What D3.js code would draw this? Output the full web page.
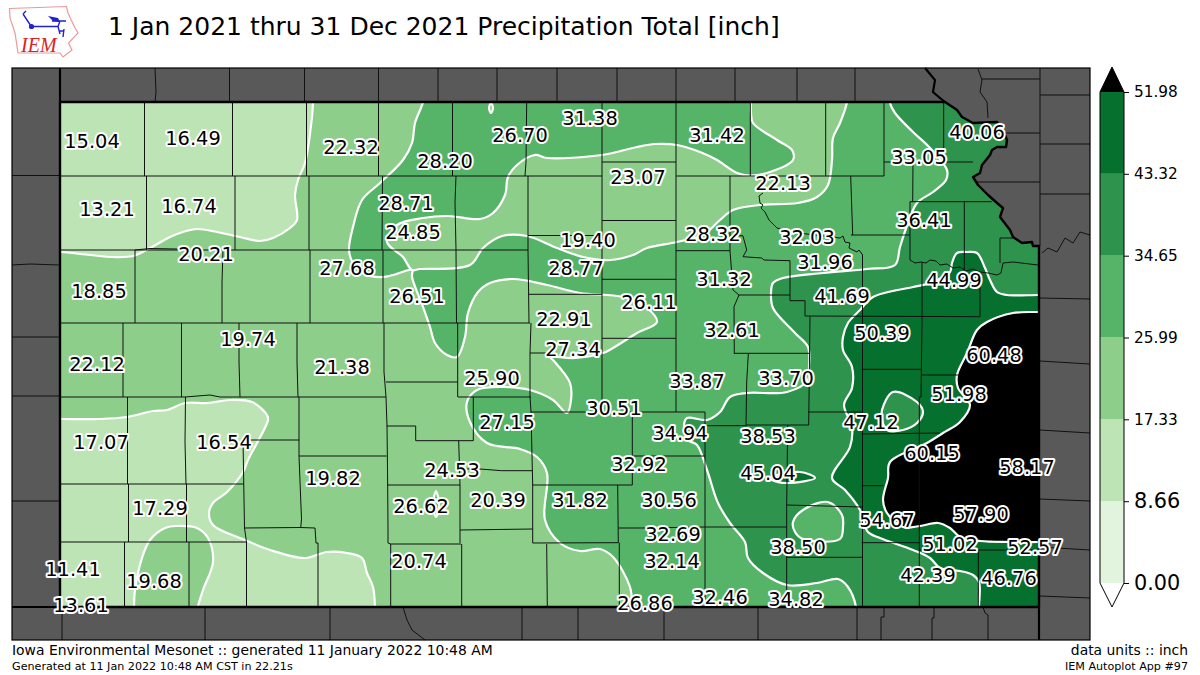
<!DOCTYPE html>
<html>
<head>
<meta charset="utf-8">
<title>Precipitation Total</title>
<script src="https://cdn.jsdelivr.net/npm/d3@7"></script>
<style>
    html, body { margin: 0; padding: 0; background: #fff; }
    svg { display: block; }
    text { font-family: "DejaVu Sans", sans-serif; fill: #000; }
</style>
</head>
<body>
<svg id="chart" width="1200" height="675"></svg>
<script>
// Everything on the map is in grid units: [east, south] of the NW corner of Kansas
var levelBreaks = [0, 8.66, 17.33, 25.99, 34.65, 43.32, 51.98];
var levelColors = ['#e3f4de', '#bce4b5', '#8dce8b', '#56b468', '#2e944d', '#06702f'];
var overColor = '#000000';
var tickLabels = ['0.00', '8.66', '17.33', '25.99', '34.65', '43.32', '51.98'];

var stationValues = [15.04, 16.49, 22.32, 28.20, 26.70, 31.38, 31.42, 23.07, 22.13, 33.05, 40.06, 13.21, 16.74, 28.71, 24.85,
    19.40, 28.32, 32.03, 36.41, 20.21, 27.68, 31.96, 28.77, 31.32, 44.99, 18.85, 26.51, 26.11, 41.69, 22.91, 32.61, 50.39,
    19.74, 27.34, 60.48, 22.12, 21.38, 25.90, 33.87, 33.70, 30.51, 51.98, 27.15, 47.12, 34.94, 38.53, 17.07, 16.54, 60.15,
    24.53, 58.17, 32.92, 45.04, 19.82, 30.56, 20.39, 31.82, 26.62, 17.29, 57.90, 54.67, 32.69, 38.50, 51.02, 32.14, 52.57,
    20.74, 11.41, 19.68, 42.39, 46.76, 26.86, 32.46, 34.82, 13.61];
var stationEast = [32, 133, 291, 385, 460, 530, 657, 578, 723, 859, 917, 47, 129, 346, 353,
    528, 653, 747, 864, 146, 287, 765, 516, 664, 894, 39, 357, 589, 782, 504, 672, 822,
    188, 513, 934, 37, 282, 432, 637, 726, 554, 899, 447, 811, 620, 708, 41, 164, 872,
    392, 967, 579, 708, 273, 609, 438, 520, 361, 100, 921, 827, 613, 738, 890, 612, 975,
    359, 13, 94, 868, 949, 585, 660, 736, 21];
var stationSouth = [39, 36, 45, 59, 33, 16, 33, 75, 81, 55, 30, 107, 104, 101, 130,
    138, 132, 135, 118, 152, 166, 160, 166, 177, 178, 189, 194, 200, 194, 217, 228, 231,
    237, 247, 253, 262, 265, 276, 279, 276, 306, 292, 320, 320, 331, 334, 340, 340, 351,
    368, 365, 362, 371, 376, 398, 398, 398, 404, 406, 412, 418, 432, 445, 442, 459, 445,
    459, 467, 479, 473, 476, 501, 495, 497, 503];

var kansasBorder = [[0, 0], [885, 0], [897, 8], [902, 15], [913, 21], [937, 20], [943, 28], [947, 38], [946, 45], [937, 45],
    [932, 48], [930, 53], [922, 63], [920, 71], [913, 75], [918, 83], [928, 93], [937, 101], [943, 106], [940, 115], [950, 128],
    [953, 135], [962, 141], [972, 140], [973, 144], [979, 144], [979, 505], [0, 505]];
var borderExtras = [[[865, -34], [875, -22], [873, -10], [880, -4], [885, 0]],
    [[0, -34], [0, 0]], [[-48, 505], [0, 505]], [[979, 505], [979, 538]]];

// filled bands, painted in this order, each one on top of the last
var band1North = [[253, -7], [253, 0], [252, 15], [245, 61], [238, 78], [235, 93], [237, 118], [230, 126], [213, 136], [200, 139],
    [180, 135], [157, 130], [137, 127], [123, 130], [110, 135], [90, 146], [73, 154], [53, 155], [30, 153], [1, 150], [-10, 150], [-10, -7]];
var band1South = [[-10, 317], [2, 317], [40, 317], [67, 315], [93, 309], [107, 308], [125, 301], [147, 301], [170, 298], [192, 300],
    [207, 313], [208, 318], [197, 341], [188, 358], [183, 370], [167, 390], [153, 401], [149, 411], [153, 423], [185, 438], [210, 448],
    [245, 456], [267, 450], [287, 451], [302, 456], [307, 471], [313, 485], [315, 505], [315, 515], [-10, 515]];
var band2Island = [[105, 426], [90, 438], [82, 456], [75, 488], [74, 505], [74, 515], [138, 515], [138, 505], [143, 488], [153, 460],
    [148, 436], [137, 426], [117, 424]];
var band3Main = [[363, -7], [363, 0], [355, 21], [352, 41], [343, 58], [320, 81], [302, 98], [293, 125], [289, 148], [293, 161], [307, 173],
    [323, 175], [333, 173], [352, 168], [352, 175], [363, 205], [370, 225], [375, 241], [387, 253], [397, 255], [405, 235], [408, 211],
    [418, 190], [430, 181], [453, 177], [487, 183], [520, 191], [563, 195], [587, 206], [597, 220], [577, 231], [553, 246], [543, 251],
    [515, 256], [490, 255], [493, 258], [510, 281], [511, 298], [507, 311], [493, 298], [470, 288], [443, 285], [417, 288], [407, 300],
    [410, 320], [427, 341], [460, 347], [477, 355], [487, 371], [485, 418], [500, 441], [520, 449], [540, 447], [553, 455], [570, 485],
    [572, 505], [572, 515], [1000, 515], [1000, -7]];
var band2Channel = [[352, 168], [343, 155], [327, 140], [337, 123], [363, 116], [388, 114], [420, 117], [433, 111], [445, 93], [448, 75],
    [457, 63], [475, 53], [487, 56], [542, 53], [577, 45], [595, 42], [617, 43], [640, 50], [657, 58], [677, 71], [690, 73.5], [710, 70],
    [733, 58], [732, 48], [717, 38], [693, 21], [691, 11], [691, 0], [691, -7], [787, -7], [787, 0], [780, 21], [773, 36], [772, 58],
    [768, 83], [757, 95], [738, 101], [700, 103], [673, 108], [660, 118], [643, 133], [617, 140], [587, 146], [573, 153], [550, 158],
    [523, 155], [497, 146], [467, 134], [442, 134], [423, 146], [410, 163], [360, 167]];
var band2Dot = [[431, 1], [433, 6], [431, 11], [429, 6]];
var band3Dot = [[376, 389], [379, 404], [376, 415], [373, 404]];
var band4Main = [[830, -7], [830, 1], [835, 11], [853, 30], [870, 46], [887, 68], [886, 78], [873, 90], [857, 101], [848, 121], [840, 145],
    [835, 163], [807, 167], [763, 171], [723, 176], [713, 181], [711, 191], [713, 206], [735, 231], [748, 245], [749, 265], [748, 278],
    [727, 290], [687, 291], [670, 295], [660, 310], [647, 318], [627, 316], [624, 323], [628, 338], [637, 343], [647, 368], [658, 401],
    [670, 421], [685, 440], [688, 456], [703, 471], [727, 483], [757, 481], [778, 477], [788, 485], [796, 505], [796, 515], [1000, 515], [1000, -7]];
var band3Island = [[733, 420], [743, 408], [768, 400], [782, 413], [783, 425], [780, 437], [743, 437], [735, 430]];
var band5Main = [[1000, 193], [978, 193], [947, 193], [937, 190], [930, 178], [925, 166], [917, 151], [907, 150], [897, 151], [892, 161],
    [890, 170], [870, 181], [853, 185], [813, 195], [800, 208], [788, 221], [783, 235], [783, 248], [792, 265], [792, 286], [784, 303],
    [792, 325], [790, 345], [772, 376], [785, 388], [800, 408], [808, 430], [820, 436], [853, 448], [870, 456], [880, 466], [900, 469],
    [913, 473], [919, 480], [919, 505], [919, 515], [1000, 515]];
var band4Island = [[822, 308], [833, 290], [857, 300], [863, 310], [857, 321], [843, 328], [827, 328], [822, 318]];
var band5Sliver = [[710, 376], [740, 370], [755, 376], [727, 381], [712, 378]];
var bandOver = [[1000, 210], [978, 210], [953, 211], [927, 220], [917, 228], [907, 251], [897, 273], [898, 286], [910, 303], [900, 320],
    [883, 331], [867, 341], [830, 360], [828, 376], [823, 398], [827, 411], [843, 425], [860, 424], [878, 421], [890, 426], [900, 435],
    [920, 439], [950, 440], [978, 440], [1000, 440]];

var bands = [
    {pts: band1North, color: levelColors[1]}, {pts: band1South, color: levelColors[1]},
    {pts: band2Island, color: levelColors[2]},
    {pts: band3Main, color: levelColors[3]}, {pts: band2Channel, color: levelColors[2]},
    {pts: band2Dot, color: levelColors[2]}, {pts: band3Dot, color: levelColors[3]},
    {pts: band4Main, color: levelColors[4]}, {pts: band3Island, color: levelColors[3]},
    {pts: band5Main, color: levelColors[5]}, {pts: band4Island, color: levelColors[4]}, {pts: band5Sliver, color: levelColors[5]},
    {pts: bandOver, color: overColor}
];

// county lines inside Kansas
var countyLines = [
    [[0, 74], [542, 74]], [[616, 74], [824, 74]], [[542, 60], [616, 60]], [[824, 60], [913, 60]],
    [[0, 148], [468, 148]], [[616, 148.7], [670, 148.7]], [[0, 221], [470, 221]],
    [[0, 295], [125, 295], [150, 293], [160, 295], [326, 295]], [[398, 295], [471, 295]],
    [[0, 382], [184, 382]], [[0, 440], [186.5, 440]],
    [[84.5, 0], [84.5, 74]], [[172.5, 0], [172.5, 74]], [[246.5, 0], [246.5, 74]], [[318.5, 0], [318.5, 74]], [[392.5, 0], [392.5, 74]],
    [[466.7, 0], [466, 60], [465, 74]], [[542, 0], [542, 310]], [[616, 0], [616, 310]],
    [[690.3, 0], [690.3, 74]], [[765.7, 0], [765.7, 74]], [[824, 0], [824, 74]], [[883.7, 0], [883.7, 60]],
    [[86.5, 74], [86.5, 148]], [[175, 74], [175, 148]], [[249, 74], [249, 148]], [[322.5, 74], [322, 148]], [[396, 74], [395, 100], [396, 148]],
    [[468, 74], [468, 148]], [[670, 74], [670, 148.7]],
    [[75, 148], [90, 146.5], [117, 147]], [[75, 148], [75, 221]], [[163, 148], [162, 180], [162, 221]], [[250, 148], [250, 221]], [[323, 148], [323, 221]],
    [[396, 148], [396.5, 221]], [[468, 148], [469, 221]],
    [[63, 221], [63, 295]], [[121.5, 221], [121.5, 295]], [[179, 221], [179, 260], [180, 295]], [[237, 221], [237, 260], [238, 295]],
    [[324, 221], [324, 270], [326, 295]], [[326, 280], [397.7, 280]], [[397.7, 221], [397.7, 295]],
    [[326, 295], [327, 324], [327.7, 384], [328, 427], [328, 441], [330.7, 442], [330.7, 505]],
    [[67.5, 295], [67.5, 382]], [[125.5, 295], [125, 340], [126, 382]],
    [[239, 295], [239, 354], [241.5, 417], [240.7, 426]], [[183, 338], [239, 338]], [[183, 338], [184.5, 426], [186.5, 440]],
    [[184.5, 426], [240, 425.5], [255, 426]], [[255, 426], [256, 441], [258, 441], [258, 505]], [[186.5, 440], [186.5, 505]],
    [[68.5, 382], [68.5, 440]], [[126.5, 382], [126.5, 440]], [[64.5, 440], [64.5, 505]], [[129, 440], [129, 505]],
    [[239, 354], [326.5, 354]],
    [[326.7, 324], [355.7, 324]], [[355.7, 324], [355.7, 338.7]], [[355.7, 338.7], [413.3, 338.7]], [[413.3, 295], [413.3, 338.7]],
    [[398.7, 338.7], [400, 383]], [[327.3, 383], [400, 383]], [[400, 383], [400, 441]], [[330.7, 442], [401, 442]], [[401.7, 442], [401.7, 505]],
    [[400, 367], [420, 367], [441.7, 368.7], [472.3, 368.7]], [[400, 428], [472.7, 427]],
    [[471, 221], [470, 251], [470, 295], [471, 310], [472.7, 383], [472.7, 441]], [[470, 251], [487, 251]],
    [[471, 310], [645, 310]], [[572.3, 310], [572.3, 383]], [[572.3, 354], [645, 354]], [[472.7, 383], [572.3, 383]],
    [[557.7, 383], [558.3, 440.7]], [[558.3, 426], [581.7, 426], [645, 425], [726.7, 425]], [[472.7, 441], [558.3, 440.7]],
    [[559.3, 440.7], [559.3, 505]], [[486.7, 442], [487.3, 505]], [[645, 310], [645, 505]],
    [[645, 323.7], [686, 323.7]], [[688.3, 252], [686.7, 280], [686, 323.7]], [[674.3, 251.3], [750, 251.3]],
    [[670, 148.7], [673, 188], [679, 193]], [[679, 193], [674, 204.7], [674.3, 252]], [[679, 193], [730, 193]],
    [[730, 158.7], [730, 198.7]], [[730, 198.7], [745, 198.7]], [[745, 198.7], [745, 214]], [[745, 214], [920, 214.7]],
    [[750, 214.7], [748.7, 323]], [[748, 310], [802, 310]], [[686, 323], [748.7, 323]],
    [[670, 133.7], [683, 133.7]], [[683, 134], [686.7, 148], [683, 154.7], [701.7, 156], [704, 158], [730, 158.7]],
    [[703, 91], [699, 94], [700, 101], [703, 103], [701, 106], [705, 110], [709, 118], [717, 126], [730, 130],
        [780, 136], [783, 134], [785, 140], [790, 141], [789, 146], [797, 150], [799, 148], [802.7, 153]],
    [[802.5, 153], [802.5, 505]], [[790.7, 74], [792.7, 133]], [[791, 133], [850, 133]], [[853, 60], [852.7, 99.7]], [[850, 99.7], [850, 158]],
    [[850, 99.7], [931.7, 99.7]], [[904.3, 99.7], [904.3, 168]],
    [[850, 158], [855, 161], [861, 160], [866, 161], [870, 158], [876, 159], [880, 163], [887, 162], [893, 166], [900, 165], [906, 169],
        [913, 167], [920, 170], [928, 171], [937, 173], [941, 171], [943, 161], [953, 160], [978, 163]],
    [[940, 136], [940, 161]], [[940, 136], [953, 136]],
    [[862, 160], [862, 221], [861, 295], [859.3, 295], [859.3, 505]],
    [[801.7, 267.3], [861.7, 267.3]], [[861.7, 273], [898.3, 273]], [[801.7, 332], [880, 331]], [[801.7, 383.7], [823.3, 383.7]],
    [[801.7, 440.7], [859.3, 440.7]], [[859, 448], [978, 448]], [[918.3, 448], [918.3, 505]], [[920, 171], [920, 214.7]],
    [[726.7, 403], [802, 405]], [[727.7, 323], [726.7, 403], [726.7, 505]], [[727, 455.3], [802, 455.3]],
    [[542, 118.5], [616, 118.5]], [[468, 133.5], [542, 133.5]], [[469, 192.3], [542, 192.3]], [[542, 177.3], [616, 177.3]],
    [[542, 236.3], [616, 236.3]]
];
// county lines of the neighbouring states, outside Kansas
var outsideLines = [
    [[95, -34], [96, -10], [95, 0]], [[169.5, -34], [169.5, 0]], [[244.5, -34], [244.5, 0]], [[318.5, -34], [318.5, 0]], [[378, -34], [378, 0]],
    [[437, -34], [437, 0]], [[497, -34], [497, 0]], [[557, -34], [557, 0]], [[616, -34], [616, 0]], [[675, -34], [675, 0]],
    [[737, -34], [737, 0]], [[795, -34], [795, 0]],
    [[-48, 73.5], [0, 73.5]], [[-48, 163], [-30, 162], [0, 163]], [[-48, 235], [0, 235]], [[-48, 294], [0, 294]], [[-48, 399], [0, 399]],
    [[2, 505], [2, 538]], [[145, 505], [145, 538]], [[270, 505], [270, 538]], [[343, 505], [347, 518], [352, 528], [365, 538]],
    [[462, 505], [462, 538]], [[518, 505], [518, 538]], [[604, 505], [604, 538]], [[698, 505], [698, 538]], [[797, 505], [797, 538]],
    [[824, 505], [824, 515], [821, 515], [821, 538]], [[874, 505], [874, 516], [872, 516], [872, 538]], [[923, 505], [925, 511], [928, 513], [928, 538]],
    [[918, -33], [922, -22], [920, -10], [927, 0], [928, 16]], [[922, -23], [980, -23]], [[980, -34], [980, 144]], [[980, -7], [1030, -7]],
    [[943, 31], [980, 31]], [[980, 42], [1030, 42]], [[915, 80], [980, 80]], [[980, 92], [1030, 92]],
    [[982, 151], [988, 146], [997, 150], [1005, 136], [1013, 141], [1020, 130], [1030, 133]],
    [[980, 196], [1030, 197]], [[980, 259], [1030, 262]], [[980, 328], [1030, 331]], [[980, 397], [1030, 399]], [[980, 445], [1030, 448]], [[980, 494], [1030, 496]]
];

var svg = d3.select('#chart');

var xMap = d3.scaleLinear().domain([0, 978]).range([60, 1038]);
var yMap = d3.scaleLinear().domain([0, 505]).range([102, 607]);
var gridLine = d3.line().x(function(d) { return xMap(d[0]); }).y(function(d) { return yMap(d[1]); });
var contour = d3.line().x(function(d) { return xMap(d[0]); }).y(function(d) { return yMap(d[1]); })
    .curve(d3.curveCatmullRomClosed.alpha(0.5));
var closedPath = function(pts) { return gridLine(pts) + 'Z'; };

// Title, footers
svg.append('text').attr('x', 108).attr('y', 35).attr('font-size', 25)
    .text('1 Jan 2021 thru 31 Dec 2021 Precipitation Total [inch]');
svg.append('text').attr('x', 12).attr('y', 655).attr('font-size', 13.9)
    .text('Iowa Environmental Mesonet :: generated 11 January 2022 10:48 AM');
svg.append('text').attr('x', 12).attr('y', 670).attr('font-size', 11.15)
    .text('Generated at 11 Jan 2022 10:48 AM CST in 22.21s');
svg.append('text').attr('x', 1188).attr('y', 655).attr('font-size', 13.9).attr('text-anchor', 'end')
    .text('data units :: inch');
svg.append('text').attr('x', 1188).attr('y', 670).attr('font-size', 11.15).attr('text-anchor', 'end')
    .text('IEM Autoplot App #97');

// Logo
var logo = svg.append('g');
logo.append('path').attr('fill', 'none').attr('stroke', '#ea9a9a').attr('stroke-width', 1.2)
    .attr('d', 'M9.5 8.5L66.5 6.5L68 13L75 28L78 33L68.5 43L72 50L63 57L60 53L18 53L15 33L10 18Z');
logo.append('path').attr('fill', 'none').attr('stroke', '#2222cc').attr('stroke-width', 1.4)
    .attr('d', 'M32 26.5L58 26.5M52 21L66 21M60 21L58 26.5L60 34M60 31L64 31M64 29L63 37M31 26L23 14M23 14L26 11');
logo.append('path').attr('fill', '#2222cc').attr('d', 'M48 16L58 18L60 22L53 21Z');
logo.append('circle').attr('cx', 31.5).attr('cy', 26.5).attr('r', 2.6).attr('fill', '#2222cc');
logo.append('text').attr('x', 21).attr('y', 52).attr('font-size', 20).attr('font-style', 'italic')
    .style('font-family', '"Liberation Serif", serif').style('fill', '#dd2222').text('IEM');

// Map
svg.append('clipPath').attr('id', 'kansas').append('path').attr('d', closedPath(kansasBorder));
svg.append('rect').attr('x', xMap(-48)).attr('y', yMap(-34))
    .attr('width', xMap(1030) - xMap(-48)).attr('height', yMap(538) - yMap(-34))
    .attr('fill', '#595959');

var state = svg.append('g').attr('clip-path', 'url(#kansas)');
state.append('path').attr('d', closedPath(kansasBorder)).attr('fill', levelColors[2]);
state.selectAll('path.band').data(bands).enter().append('path')
    .attr('class', 'band')
    .attr('d', function(d) { return contour(d.pts); })
    .attr('fill', function(d) { return d.color; })
    .attr('stroke', '#fff').attr('stroke-width', 2.2);

svg.append('g').selectAll('path').data(countyLines.concat(outsideLines)).enter().append('path')
    .attr('d', gridLine).attr('fill', 'none').attr('stroke', '#111').attr('stroke-width', 1);

// State border, the river on the north-east and the border stubs past the frame of Kansas
svg.append('path').attr('d', closedPath(kansasBorder)).attr('fill', 'none')
    .attr('stroke', '#000').attr('stroke-width', 2.4).attr('stroke-linejoin', 'round');
svg.append('g').selectAll('path').data(borderExtras).enter().append('path')
    .attr('d', gridLine).attr('fill', 'none').attr('stroke', '#000').attr('stroke-width', 2.2);

svg.append('rect').attr('x', xMap(-48)).attr('y', yMap(-34))
    .attr('width', xMap(1030) - xMap(-48)).attr('height', yMap(538) - yMap(-34))
    .attr('fill', 'none').attr('stroke', '#000').attr('stroke-width', 1.2);

// Station labels
svg.append('g').selectAll('text').data(stationValues).enter().append('text')
    .attr('x', function(d, i) { return xMap(stationEast[i]); })
    .attr('y', function(d, i) { return yMap(stationSouth[i]); })
    .attr('dy', '0.36em')
    .attr('text-anchor', 'middle')
    .attr('font-size', 19.4)
    .attr('stroke', '#fff').attr('stroke-width', 4).attr('stroke-linejoin', 'round')
    .style('paint-order', 'stroke')
    .text(function(d) { return d.toFixed(2); });

// Colorbar
var barY = d3.scaleLinear().domain([0, 51.98]).range([583, 92]);
var barLeft = 1100, barRight = 1124, barMid = 1112;
var bar = svg.append('g');
bar.selectAll('rect').data(levelColors).enter().append('rect')
    .attr('x', barLeft).attr('width', barRight - barLeft)
    .attr('y', function(d, i) { return barY(levelBreaks[i + 1]); })
    .attr('height', function(d, i) { return barY(levelBreaks[i]) - barY(levelBreaks[i + 1]); })
    .attr('fill', function(d) { return d; });
bar.append('path').attr('d', 'M' + barLeft + ' ' + barY(51.98) + 'L' + barMid + ' 67L' + barRight + ' ' + barY(51.98) + 'Z')
    .attr('fill', overColor);
bar.append('path')
    .attr('d', 'M' + barLeft + ' ' + barY(51.98) + 'L' + barMid + ' 67L' + barRight + ' ' + barY(51.98) +
        'L' + barRight + ' ' + barY(0) + 'L' + barMid + ' 607L' + barLeft + ' ' + barY(0) + 'Z')
    .attr('fill', 'none').attr('stroke', '#000').attr('stroke-width', 1);

var barAxis = d3.axisRight(barY).tickValues(levelBreaks)
    .tickFormat(function(d, i) { return tickLabels[i]; })
    .tickSize(5).tickPadding(5);
var axisG = svg.append('g').attr('transform', 'translate(' + barRight + ',0)').call(barAxis);
axisG.select('.domain').remove();
axisG.selectAll('text')
    .style('font-family', '"DejaVu Sans", sans-serif')
    .style('font-size', function(d) { return d < 10 ? '20.8px' : '15.3px'; });
</script>
</body>
</html>
